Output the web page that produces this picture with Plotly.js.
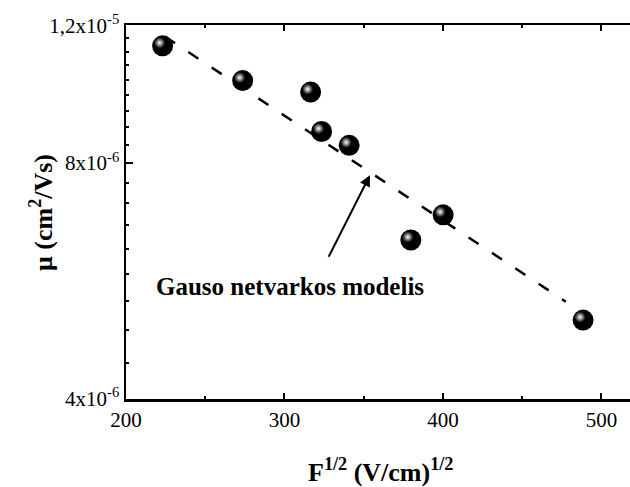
<!DOCTYPE html>
<html>
<head>
<meta charset="utf-8">
<script src="https://cdn.plot.ly/plotly-3.0.1.min.js"></script>
<style>
html,body{margin:0;padding:0;background:#fff;}
#chart{width:630px;height:487px;}
</style>
</head>
<body>
<div id="chart"></div>
<script>
// Data
const fieldSqrt = [223.1, 273.6, 316.5, 323.4, 340.8, 379.7, 400.1, 488.4];
const mobility  = [1.13e-5, 1.02e-5, 9.86e-6, 8.78e-6, 8.43e-6, 6.38e-6, 6.87e-6, 5.04e-6];
const fitX  = [224.6, 477.5];
const fitMu = [1.161e-5, 5.32e-6];
const xTickVals = [200, 300, 400, 500];
const xTickText = ['200', '300', '400', '500'];
const yTickVals = [4e-6, 8e-6, 1.2e-5];
const yTickText = ['4x10<sup>-6</sup>', '8x10<sup>-6</sup>', '1,2x10<sup>-5</sup>'];
const annText = 'Gauso netvarkos modelis';
const annPoint = [353.9, 7.72e-6];
const labelPoint = [303.7, 5.56e-6];

// minor ticks: 8 per major interval (linear spacing)
const yMinor = [];
for (let i = 0; i < yTickVals.length - 1; i++) {
  const a = yTickVals[i], b = yTickVals[i + 1];
  for (let k = 1; k < 9; k++) yMinor.push(a + (b - a) * k / 9);
}

const FONT = 'Liberation Serif';

const traces = [
  {
    x: fitX, y: fitMu, mode: 'lines', type: 'scatter',
    line: {color: '#000', width: 2.5, dash: '12px,16px'},
    hoverinfo: 'skip'
  },
  {
    x: fieldSqrt, y: mobility, mode: 'markers', type: 'scatter',
    marker: {size: 21, color: '#000', line: {width: 0}}
  },
  {
    x: fieldSqrt, y: mobility, mode: 'markers', type: 'scatter',
    marker: {size: 11, color: '#000', gradient: {type: 'radial', color: '#ffffff'}, line: {width: 0}}
  }
];

const layout = {
  width: 630, height: 487,
  margin: {l: 126, r: 0, t: 25, b: 88},
  paper_bgcolor: '#fff', plot_bgcolor: '#fff',
  showlegend: false,
  font: {family: FONT, color: '#000', size: 21},
  xaxis: {
    range: [200, 518], showgrid: false, zeroline: false,
    showline: true, linecolor: '#000', linewidth: 2.5, mirror: 'allticks',
    ticks: 'inside', ticklen: 6, tickwidth: 2, tickcolor: '#000',
    tickmode: 'array', tickvals: xTickVals, ticktext: xTickText,
    tickfont: {family: FONT, size: 21, color: '#000'},
    minor: {tickmode: 'array', tickvals: [250, 350, 450], ticks: 'inside', ticklen: 3, tickwidth: 2, tickcolor: '#000'}
  },
  yaxis: {
    type: 'log',
    range: [Math.log10(4e-6) - 0.0005, Math.log10(1.2e-5) + 0.0005],
    showgrid: false, zeroline: false,
    showline: true, linecolor: '#000', linewidth: 2.5,
    ticks: 'inside', ticklen: 7, tickwidth: 2, tickcolor: '#000',
    tickmode: 'array', tickvals: yTickVals, ticktext: yTickText,
    tickfont: {family: FONT, size: 21, color: '#000'},
    minor: {tickmode: 'array', tickvals: yMinor, ticks: 'inside', ticklen: 3, tickwidth: 2, tickcolor: '#000'}
  },
  annotations: [
    {
      x: annPoint[0], y: Math.log10(annPoint[1]), xref: 'x', yref: 'y',
      ax: -42, ay: 83, axref: 'pixel', ayref: 'pixel',
      showarrow: true, arrowhead: 2, arrowsize: 1.1, arrowwidth: 2, arrowcolor: '#000', text: ''
    },
    {
      x: labelPoint[0], y: Math.log10(labelPoint[1]), xref: 'x', yref: 'y',
      showarrow: false, text: '<b>' + annText + '</b>',
      font: {family: FONT, size: 25, color: '#000'}, xanchor: 'center', yanchor: 'middle'
    },
    {
      x: -0.1687, y: 0.5, xref: 'paper', yref: 'paper', showarrow: false,
      text: '<b>\u03bc (cm<sup>2</sup>/Vs)</b>', textangle: -90,
      font: {family: FONT, size: 26, color: '#000'}, xanchor: 'center', yanchor: 'middle'
    },
    {
      x: 0.504, y: -0.19, xref: 'paper', yref: 'paper', showarrow: false,
      text: '<b>F<sup>1/2</sup> (V/cm)<sup>1/2</sup></b>',
      font: {family: FONT, size: 26, color: '#000'}, xanchor: 'center', yanchor: 'middle'
    }
  ]
};

Plotly.newPlot('chart', traces, layout, {displayModeBar: false, staticPlot: true}).then(function () {
  const tr = document.querySelectorAll('.scatterlayer .trace');
  if (tr.length > 2) {
    const pts = tr[2].querySelector('.points');
    if (pts) pts.setAttribute('transform', 'translate(-3,-3)');
  }
});
</script>
</body>
</html>
